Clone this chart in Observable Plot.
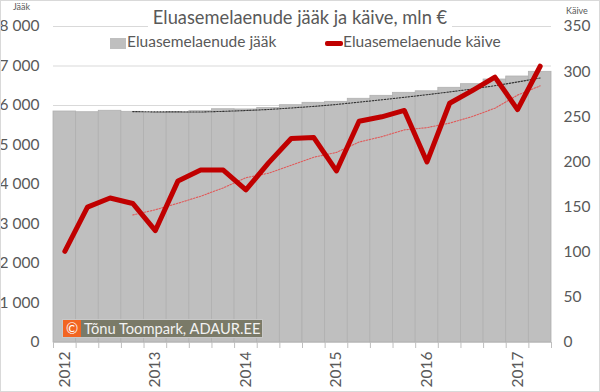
<!DOCTYPE html>
<html><head><meta charset="utf-8">
<script src="https://cdn.jsdelivr.net/npm/d3@7"></script>
<script src="https://cdn.jsdelivr.net/npm/@observablehq/plot@0.6"></script>
<style>
body{margin:0;background:#fff;}
#wrap{position:relative;width:600px;height:392px;font-family:Lato,"Open Sans",sans-serif;color:#595959;overflow:hidden;background:#fff}
#wrap svg{position:absolute;left:0;top:0}
.abs{position:absolute;white-space:nowrap}
#title{top:6px;left:0;width:600px;text-align:center;font-size:18.3px}
#title span{background:#fff;padding:0 5px}
.leg{font-size:15.5px;top:32px}
#frame{position:absolute;left:0;top:0;width:598px;height:390px;border:1px solid #d9d9d9}
#wm{left:62px;top:319px;width:199px;height:17px;background:#7a7a68;border:1px solid #c8c8c8;color:#f2f2f2;font-size:14.7px;line-height:17px}
#wm b{display:inline-block;background:#f26522;color:#fff;width:18px;height:17px;text-align:center;font-weight:normal;margin-right:3px}
</style></head>
<body>
<div id="wrap">
  <div id="chart"></div>
  <div class="abs" id="title"><span>Eluasemelaenude jääk ja käive, mln €</span></div>
  <div class="abs" style="left:110px;top:38px;width:16px;height:11px;background:#bfbfbf"></div>
  <div class="abs leg" style="left:127px">Eluasemelaenude jääk</div>
  <div class="abs" style="left:325px;top:41px;width:18px;height:5px;background:#c00000;border-radius:2px"></div>
  <div class="abs leg" style="left:343px">Eluasemelaenude käive</div>
  <div class="abs" style="left:13px;top:1px;font-size:9px">Jääk</div>
  <div class="abs" style="left:566px;top:5px;font-size:9px">Käive</div>
  <div class="abs" id="wm"><b>©</b>Tõnu Toompark, ADAUR.EE</div>
  <div id="frame"></div>
</div>
<script>
const quarters = ["2012 Q1","2012 Q2","2012 Q3","2012 Q4","2013 Q1","2013 Q2","2013 Q3","2013 Q4",
  "2014 Q1","2014 Q2","2014 Q3","2014 Q4","2015 Q1","2015 Q2","2015 Q3","2015 Q4",
  "2016 Q1","2016 Q2","2016 Q3","2016 Q4","2017 Q1","2017 Q2"];
const jaak = [5848,5830,5866,5840,5815,5830,5855,5906,5900,5935,6008,6068,6093,6170,6245,6321,6360,6448,6540,6658,6734,6853];
const kaive = [101,150,160,154,124,179,191,191,169,199,226,227,190,245,250,257,200,265,279,294,258,306];
const yearLabels = ["2012","2013","2014","2015","2016","2017"];
const leftTicks = [0,1000,2000,3000,4000,5000,6000,7000,8000];
const rightTicks = [0,50,100,150,200,250,300,350];

const k = 8000/350;
const data = quarters.map((q,i)=>({q,i,jaak:jaak[i],kaive:kaive[i]}));
const yearPos = yearLabels.map((y,j)=>quarters.indexOf(y+" Q1")+0.5);

const plot = Plot.plot({
  width:600,height:392,marginLeft:53,marginRight:49,marginTop:26,marginBottom:50,
  x:{domain:[0,quarters.length],label:null},
  y:{domain:[0,8000],label:null},
  style:{fontFamily:"Lato, 'Open Sans', sans-serif",fontSize:"15.5px",color:"#595959",background:"transparent"},
  marks:[
    Plot.ruleY(leftTicks,{stroke:"#d9d9d9",strokeWidth:1}),
    Plot.rectY(data,{x1:"i",x2:d=>d.i+1,y:"jaak",fill:"#bfbfbf",stroke:"#b0b0b0",strokeWidth:0.8}),
    Plot.lineY(data,Plot.windowY({k:4,anchor:"end",strict:true},{x:d=>d.i+0.5,y:"jaak",stroke:"#333",strokeWidth:1.1,strokeDasharray:"1.5,1.5"})),
    Plot.lineY(data,Plot.windowY({k:4,anchor:"end",strict:true},{x:d=>d.i+0.5,y:d=>d.kaive*k,stroke:"#e05a5a",strokeWidth:1.1,strokeDasharray:"1.5,1.5"})),
    Plot.lineY(data,{x:d=>d.i+0.5,y:d=>d.kaive*k,stroke:"#c00000",strokeWidth:5,strokeLinejoin:"round",strokeLinecap:"round"}),
    Plot.axisY({anchor:"left",ticks:leftTicks,tickSize:0,tickPadding:14,label:null,
      tickFormat:d=>d3.format(",")(d).replace(/,/g," ")}),
    Plot.axisY({anchor:"right",ticks:rightTicks.map(v=>v*k),tickSize:0,tickPadding:12,label:null,
      tickFormat:v=>String(Math.round(v/k))}),
    Plot.axisX({ticks:d3.range(0,quarters.length+1),tickSize:6,stroke:"#bfbfbf",tickFormat:()=>"",label:null}),
    Plot.axisX({ticks:yearPos,tickSize:0,tickRotate:-90,tickPadding:9,fontSize:15.5,label:null,
      tickFormat:v=>yearLabels[yearPos.indexOf(v)]})
  ]
});
document.getElementById("chart").appendChild(plot);
</script>
</body></html>
